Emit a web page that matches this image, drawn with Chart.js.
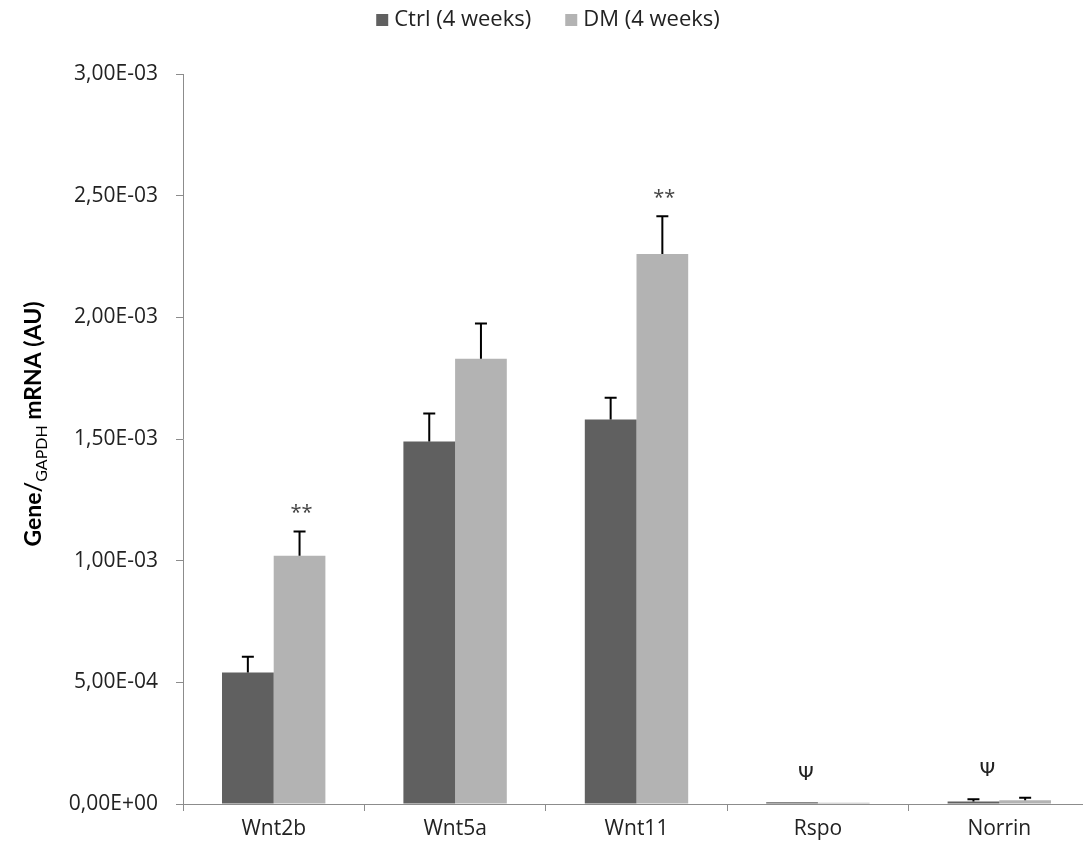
<!DOCTYPE html>
<html>
<head>
<meta charset="utf-8">
<script src="https://cdn.jsdelivr.net/npm/chart.js@4.4.1/dist/chart.umd.min.js"></script>
<style>
  html, body { margin: 0; padding: 0; background: #fff; overflow: hidden; }
  #wrap { position: relative; width: 1090px; height: 860px; }
</style>
</head>
<body>
<div id="wrap"><canvas id="geneChart"></canvas></div>
<script>
const genes = ["Wnt2b", "Wnt5a", "Wnt11", "Rspo", "Norrin"];
const ctrlValues = [0.00054, 0.00149, 0.00158, 0.000007, 0.000010];
const ctrlErrors = [0.000065, 0.000115, 0.000090, 0, 0.000010];
const dmValues = [0.00102, 0.00183, 0.00226, 0.000005, 0.000015];
const dmErrors = [0.000100, 0.000145, 0.000155, 0, 0.000011];
// significance marks: [gene index, text]
const dmMarks = [[0, "**"], [2, "**"]];
const psiMarks = [[3, "\u03A8"], [4, "\u03A8"]];

const FONT = "'Open Sans', Lato, sans-serif";

function sciLabel(v) {
    const parts = Number(v).toExponential(2).split("e");
    let exp = parseInt(parts[1], 10);
    const sign = exp < 0 ? "-" : "+";
    exp = Math.abs(exp);
    return parts[0].replace(".", ",") + "E" + sign + (exp < 10 ? "0" + exp : exp);
}

// error bars, ** and Ψ marks, y title
const extrasPlugin = {
    id: "extras",
    afterDatasetsDraw(chart) {
        const ctx = chart.ctx;
        const y = chart.scales.y;
        const errs = [ctrlErrors, dmErrors];
        const vals = [ctrlValues, dmValues];
        ctx.save();
        ctx.strokeStyle = "#000";
        ctx.lineWidth = 2;
        chart.data.datasets.forEach((ds, di) => {
            chart.getDatasetMeta(di).data.forEach((bar, i) => {
                if (!errs[di][i]) return;
                const top = y.getPixelForValue(vals[di][i] + errs[di][i]);
                const base = y.getPixelForValue(vals[di][i]);
                ctx.beginPath();
                ctx.moveTo(bar.x, base);
                ctx.lineTo(bar.x, top);
                ctx.moveTo(bar.x - 6, top);
                ctx.lineTo(bar.x + 6, top);
                ctx.stroke();
            });
        });

        ctx.fillStyle = "#444";
        ctx.textAlign = "center";
        ctx.textBaseline = "alphabetic";
        ctx.font = "20px " + FONT;
        const dmMeta = chart.getDatasetMeta(1);
        dmMarks.forEach(([i, t]) => {
            const top = y.getPixelForValue(dmValues[i] + dmErrors[i]);
            ctx.fillText(t, dmMeta.data[i].x + 2, top - 12);
        });
        ctx.font = "20px 'DejaVu Sans', sans-serif";
        ctx.fillStyle = "#222";
        const x = chart.scales.x;
        psiMarks.forEach(([i, t]) => {
            const top = y.getPixelForValue(Math.max(ctrlValues[i] + ctrlErrors[i], dmValues[i] + dmErrors[i]));
            ctx.fillText(t, x.getPixelForValue(i) - 12, top - 22);
        });

        // y axis title with subscript
        ctx.save();
        ctx.translate(41, 424);
        ctx.rotate(-Math.PI / 2);
        ctx.fillStyle = "#000";
        ctx.textAlign = "left";
        const pieces = [["bold 23px Lato, sans-serif", "Gene/", 0], ["16px Lato, sans-serif", "GAPDH", 6], ["bold 23px Lato, sans-serif", " mRNA (AU)", 0]];
        let total = 0;
        pieces.forEach(p => { ctx.font = p[0]; total += ctx.measureText(p[1]).width; });
        let cx = -total / 2;
        pieces.forEach(p => {
            ctx.font = p[0];
            ctx.fillText(p[1], cx, p[2]);
            cx += ctx.measureText(p[1]).width;
        });
        ctx.restore();
        ctx.restore();
    }
};

// custom legend on top
const legendPlugin = {
    id: "topLegend",
    afterDraw(chart) {
        const ctx = chart.ctx;
        ctx.save();
        ctx.font = "22px " + FONT;
        ctx.textBaseline = "middle";
        ctx.textAlign = "left";
        const items = chart.data.datasets.map(d => [d.label, d.backgroundColor]);
        const gap = 34, box = 12, boxGap = 6;
        let total = 0;
        items.forEach(([t]) => { total += box + boxGap + ctx.measureText(t).width; });
        total += gap * (items.length - 1);
        let x = 548 - total / 2;
        const yc = 20;
        items.forEach(([t, c]) => {
            ctx.fillStyle = c;
            ctx.fillRect(x, yc - box / 2, box, box);
            x += box + boxGap;
            ctx.fillStyle = "#222";
            ctx.fillText(t, x, yc);
            x += ctx.measureText(t).width + gap;
        });
        ctx.restore();
    }
};

new Chart(document.getElementById("geneChart"), {
    type: "bar",
    data: {
        labels: genes,
        datasets: [
            { label: "Ctrl (4 weeks)", data: ctrlValues, backgroundColor: "#606060" },
            { label: "DM (4 weeks)", data: dmValues, backgroundColor: "#b3b3b3" }
        ]
    },
    options: {
        responsive: true,
        maintainAspectRatio: false,
        animation: false,
        categoryPercentage: 0.57,
        barPercentage: 1.0,
        layout: { padding: { top: 74, right: 0, left: 0, bottom: 0 } },
        plugins: {
            legend: { display: false },
            tooltip: { enabled: false }
        },
        scales: {
            x: {
                grid: { display: true, drawOnChartArea: false, color: "#8c8c8c", tickLength: 7, offset: true },
                border: { color: "#8c8c8c", width: 1 },
                ticks: { color: "#222", font: { family: FONT, size: 21 }, padding: 5 },
                afterFit(s) { s.height = 56; }
            },
            y: {
                min: 0,
                max: 0.003,
                grid: { display: true, drawOnChartArea: false, color: "#8c8c8c", tickLength: 7 },
                border: { color: "#8c8c8c", width: 1 },
                ticks: {
                    stepSize: 0.0005,
                    color: "#222",
                    font: { family: FONT, size: 21 },
                    padding: 18,
                    callback: v => sciLabel(v)
                },
                afterFit(s) { s.width = 183; }
            }
        }
    },
    plugins: [extrasPlugin, legendPlugin]
});
</script>
</body>
</html>
